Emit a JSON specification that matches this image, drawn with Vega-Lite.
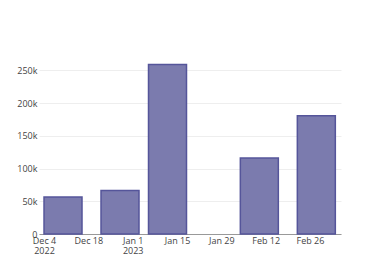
{
  "$schema": "https://vega.github.io/schema/vega-lite/v6.json",
  "autosize": "none",
  "width": 302,
  "height": 178,
  "padding": {"left": 39, "top": 56, "right": 39, "bottom": 46},
  "background": "white",
  "config": {
    "view": {"stroke": null},
    "font": "Open Sans"
  },
  "data": {
    "values": [
      {"start": "2022-12-04T00:00:00", "end": "2022-12-16T00:00:00", "value": 56500},
      {"start": "2022-12-22T00:00:00", "end": "2023-01-03T00:00:00", "value": 66600},
      {"start": "2023-01-06T00:00:00", "end": "2023-01-18T00:00:00", "value": 259200},
      {"start": "2023-02-04T00:00:00", "end": "2023-02-16T00:00:00", "value": 116100},
      {"start": "2023-02-22T00:00:00", "end": "2023-03-06T00:00:00", "value": 180800}
    ]
  },
  "mark": {"type": "bar", "fill": "#7b7bae", "stroke": "#55559a", "strokeWidth": 1.5},
  "encoding": {
    "x": {
      "field": "start",
      "type": "temporal",
      "scale": {"domain": [{"year": 2022, "month": 12, "date": 2, "hours": 10}, {"year": 2023, "month": 3, "date": 7, "hours": 19}]},
      "axis": {
        "title": null,
        "grid": false,
        "ticks": false,
        "domainColor": "#999999",
        "domainWidth": 1,
        "labelColor": "#444444",
        "labelFontSize": 9,
        "labelPadding": 2,
        "labelLineHeight": 10,
        "labelBaseline": "top",
        "labelFlush": false,
        "labelOverlap": false,
        "values": [
          {"year": 2022, "month": 12, "date": 4},
          {"year": 2022, "month": 12, "date": 18},
          {"year": 2023, "month": 1, "date": 1},
          {"year": 2023, "month": 1, "date": 15},
          {"year": 2023, "month": 1, "date": 29},
          {"year": 2023, "month": 2, "date": 12},
          {"year": 2023, "month": 2, "date": 26}
        ],
        "labelExpr": "(month(datum.value) == 11 && date(datum.value) == 4) || (month(datum.value) == 0 && date(datum.value) == 1) ? [timeFormat(datum.value, '%b %-d'), timeFormat(datum.value, '%Y')] : timeFormat(datum.value, '%b %-d')"
      }
    },
    "x2": {"field": "end"},
    "y": {
      "field": "value",
      "type": "quantitative",
      "scale": {"domain": [0, 272000], "nice": false, "zero": true},
      "axis": {
        "title": null,
        "values": [0, 50000, 100000, 150000, 200000, 250000],
        "labelExpr": "datum.value == 0 ? '0' : (datum.value / 1000) + 'k'",
        "ticks": false,
        "domain": false,
        "gridColor": "#eeeeee",
        "gridWidth": 1,
        "labelColor": "#444444",
        "labelFontSize": 9,
        "labelPadding": 2
      }
    },
    "y2": {"datum": 0}
  }
}
